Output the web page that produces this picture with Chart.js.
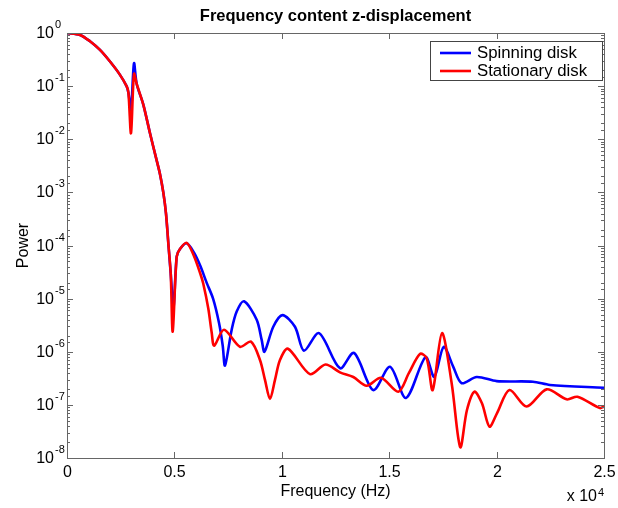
<!DOCTYPE html>
<html>
<head>
<meta charset="utf-8">
<script src="https://cdn.jsdelivr.net/npm/chart.js@4/dist/chart.umd.min.js"></script>
<style>
  body { margin: 0; background: #fff; }
  #wrap { width: 618px; height: 508px; }
</style>
</head>
<body>
<div id="wrap"><canvas id="freqChart"></canvas></div>
<script>
// values (Hz, power)
const freqSpin = [0, 605, 1071, 1536, 2002, 2467, 2779, 2860, 2979, 3119, 3245, 3552, 3864, 4143, 4330, 4483, 4609, 4725, 4828, 4958,
  5107, 5260, 5572, 5900, 6200, 6500, 6800, 7076, 7250, 7355, 7667, 7900, 8239, 8831, 9063, 9194, 9603, 10032, 10613, 11032, 11731,
  12708, 13360, 14259, 15037, 15781, 16689, 17098, 17536, 17983, 18374, 19072, 20003, 21693, 22485, 25000];
const powerSpin = [1.0, 0.92, 0.7, 0.48, 0.29, 0.163, 0.099, 0.075, 0.036, 0.27, 0.11, 0.045, 0.013, 0.0045, 0.0022, 1.0e-3, 4.0e-4, 1.0e-4, 3.0e-5, 6.8e-6,
  6.2e-5, 8.6e-5, 1.1e-4, 7.5e-5, 4.2e-5, 2.0e-5, 1.0e-5, 3.5e-6, 1.3e-6, 5.5e-7, 2.6e-6, 5.7e-6, 8.9e-6, 4.0e-6, 1.67e-6, 1.0e-6, 2.96e-6, 4.9e-6, 2.96e-6, 1.05e-6, 2.24e-6,
  4.9e-7, 9.5e-7, 1.9e-7, 5.2e-7, 1.35e-7, 7.9e-7, 3.35e-7, 1.24e-6, 5.2e-7, 2.56e-7, 3.35e-7, 2.8e-7, 2.73e-7, 2.37e-7, 2.1e-7];

const freqStat = [0, 605, 1071, 1536, 2002, 2467, 2779, 2860, 2979, 3119, 3245, 3552, 3864, 4143, 4330, 4483, 4609, 4725, 4828, 4921,
  5107, 5260, 5572, 5900, 6200, 6345, 6578, 6736, 6852, 7308, 8053, 8565, 8984, 9217, 9450, 9683, 9915, 10288, 11312, 12034, 12708,
  13328, 13951, 14617, 15422, 15920, 16432, 16744, 17024, 17456, 17908, 18308, 18620, 18969, 19318, 19667, 20016, 20599, 21399,
  22330, 23261, 23764, 24812, 25000];
const powerStat = [1.0, 0.92, 0.7, 0.48, 0.29, 0.163, 0.099, 0.075, 0.013, 0.17, 0.11, 0.045, 0.013, 0.0045, 0.0022, 1.0e-3, 4.0e-4, 1.0e-4, 3.0e-5, 2.4e-6,
  6.2e-5, 8.6e-5, 1.12e-4, 6.5e-5, 3.0e-5, 1.9e-5, 6.5e-6, 2.3e-6, 1.3e-6, 2.6e-6, 1.24e-6, 1.55e-6, 7.0e-7, 2.95e-7, 1.29e-7, 2.95e-7, 7.0e-7, 1.14e-6, 3.8e-7, 5.75e-7, 4.1e-7,
  3.35e-7, 2.29e-7, 3.23e-7, 1.77e-7, 4.0e-7, 9.1e-7, 7.6e-7, 1.9e-7, 2.24e-6, 2.56e-7, 1.6e-8, 8.0e-8, 1.77e-7, 1.07e-7, 3.9e-8, 6.9e-8, 1.9e-7,
  9.3e-8, 1.96e-7, 1.27e-7, 1.42e-7, 8.7e-8, 9.3e-8];

const xTicks = [0, 5000, 10000, 15000, 20000, 25000];
const xTickLabels = ['0', '0.5', '1', '1.5', '2', '2.5'];
const yExponents = [0, -1, -2, -3, -4, -5, -6, -7, -8];
const seriesNames = ['Spinning disk', 'Stationary disk'];

const toPoints = (xs, ys) => xs.map((x, i) => ({ x: x, y: ys[i] }));

const axisColor = '#666';

const matlabAxes = {
  id: 'matlabAxes',
  afterDraw(chart) {
    const ctx = chart.ctx;
    const a = chart.chartArea;
    const xs = chart.scales.x, ys = chart.scales.y;
    ctx.save();
    ctx.strokeStyle = axisColor;
    ctx.lineWidth = 1;
    ctx.strokeRect(a.left + 0.5, a.top + 0.5, a.right - a.left, a.bottom - a.top);

    // x ticks, inward on bottom and top
    ctx.fillStyle = '#000';
    ctx.font = '16px Arial, "Liberation Sans"';
    ctx.textAlign = 'center';
    ctx.textBaseline = 'alphabetic';
    xTicks.forEach((v, i) => {
      const px = Math.round(xs.getPixelForValue(v)) + 0.5;
      ctx.beginPath();
      ctx.moveTo(px, a.bottom); ctx.lineTo(px, a.bottom - 6);
      ctx.moveTo(px, a.top); ctx.lineTo(px, a.top + 6);
      ctx.stroke();
      ctx.fillText(xTickLabels[i], px, a.bottom + 19);
    });

    // y ticks: majors and minors from the log scale
    ys.ticks.forEach(t => {
      const py = Math.round(ys.getPixelForValue(t.value)) + 0.5;
      const len = t.major ? 6 : 3;
      ctx.beginPath();
      ctx.moveTo(a.left, py); ctx.lineTo(a.left + len, py);
      ctx.moveTo(a.right, py); ctx.lineTo(a.right - len, py);
      ctx.stroke();
    });
    yExponents.forEach(e => {
      const py = ys.getPixelForValue(Math.pow(10, e));
      ctx.font = '16px Arial, "Liberation Sans"';
      ctx.textAlign = 'right';
      ctx.fillText('10', 54, py + 5);
      ctx.font = '11px Arial, "Liberation Sans"';
      ctx.textAlign = 'left';
      ctx.fillText(e === 0 ? '0' : '-' + (-e), 55, py - 5);
    });

    // multiplier
    ctx.font = '16px Arial, "Liberation Sans"';
    ctx.textAlign = 'right';
    ctx.fillText('x 10', 597, 501);
    ctx.font = '11px Arial, "Liberation Sans"';
    ctx.textAlign = 'left';
    ctx.fillText('4', 598, 496);

    // titles
    ctx.textAlign = 'center';
    ctx.font = 'bold 16.5px Arial, "Liberation Sans"';
    ctx.fillText('Frequency content z-displacement', (a.left + a.right) / 2, 21);
    ctx.font = '16px Arial, "Liberation Sans"';
    ctx.fillText('Frequency (Hz)', (a.left + a.right) / 2, 496);
    ctx.save();
    ctx.translate(28, (a.top + a.bottom) / 2);
    ctx.rotate(-Math.PI / 2);
    ctx.fillText('Power', 0, 0);
    ctx.restore();

    // legend
    ctx.fillStyle = '#fff';
    ctx.fillRect(430, 41, 173, 40);
    ctx.strokeStyle = '#444';
    ctx.strokeRect(430.5, 41.5, 172, 39);
    chart.data.datasets.forEach((ds, i) => {
      const ly = 53 + i * 18;
      ctx.strokeStyle = ds.borderColor;
      ctx.lineWidth = 2.6;
      ctx.beginPath();
      ctx.moveTo(440, ly); ctx.lineTo(471, ly);
      ctx.stroke();
      ctx.fillStyle = '#000';
      ctx.font = '16.8px Arial, "Liberation Sans"';
      ctx.textAlign = 'left';
      ctx.textBaseline = 'middle';
      ctx.fillText(ds.label, 477, ly);
    });
    ctx.restore();
  }
};

new Chart(document.getElementById('freqChart'), {
  type: 'line',
  data: {
    datasets: [
      { label: seriesNames[0], data: toPoints(freqSpin, powerSpin), borderColor: '#0000ff', order: 2 },
      { label: seriesNames[1], data: toPoints(freqStat, powerStat), borderColor: '#ff0000', order: 1 }
    ]
  },
  options: {
    responsive: true,
    maintainAspectRatio: false,
    animation: false,
    layout: { padding: { left: 67, right: 14, top: 33, bottom: 50 } },
    elements: {
      point: { radius: 0 },
      line: { borderWidth: 2.6, tension: 0.3, fill: false }
    },
    plugins: { legend: { display: false }, tooltip: { enabled: false } },
    scales: {
      x: { type: 'linear', min: 0, max: 25000, display: false, ticks: { autoSkip: false } },
      y: { type: 'logarithmic', min: 1e-8, max: 1, display: false, ticks: { autoSkip: false } }
    }
  },
  plugins: [matlabAxes]
});
</script>
</body>
</html>
